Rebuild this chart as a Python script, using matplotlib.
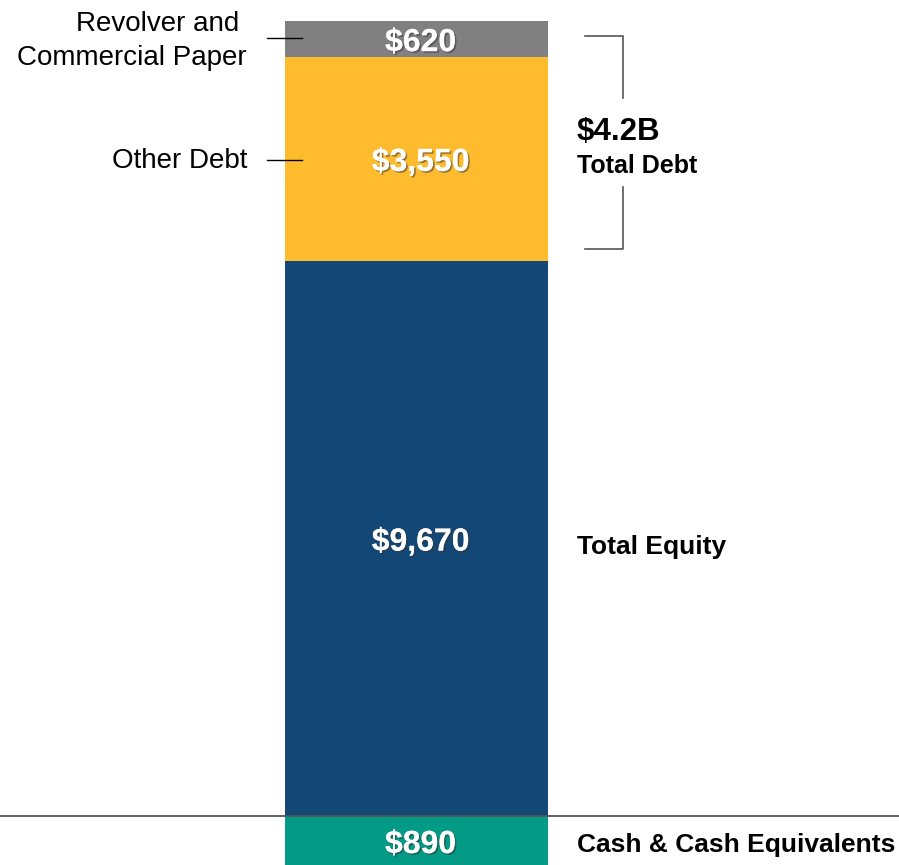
import matplotlib
matplotlib.use('Agg')
import matplotlib.pyplot as plt
import matplotlib.patheffects as pe

plt.rcParams['font.family'] = ['Liberation Sans', 'DejaVu Sans']

## capitalization segments ($M), bottom to top above the baseline
segments = ['Total Equity', 'Other Debt', 'Revolver and \nCommercial Paper']
values = [9670, 3550, 620]
colors = ['#134876', '#FDBB2D', '#808080']
value_labels = ['$9,670', '$3,550', '$620']

cash = 890  ## shown below the baseline
cash_label = '$890'
cash_name = 'Cash & Cash Equivalents'
cash_color = '#039B86'

debt_total = '$4.2B'
debt_name = 'Total Debt'

fig = plt.figure(figsize=(8.99, 8.65), dpi=100)
ax = fig.add_axes([0, 0, 1, 1])
ax.set_xlim(-1.584, 1.835)
ax.set_ylim(-853, 14206)
ax.axis('off')

shadow = [pe.withSimplePatchShadow(offset=(1.2, -1.2), shadow_rgbFace='#333333', alpha=0.5),
          pe.Normal()]
lab_x = 0.016  ## value labels sit a touch right of bar centre

bottom = 0
mids = []
for val, col, lab in zip(values, colors, value_labels):
    ax.bar(0, val, width=1.0, bottom=bottom, color=col, linewidth=0)
    mid = bottom + val / 2
    mids.append(mid)
    ax.text(lab_x, mid - 75, lab, ha='center', va='center', color='white', fontsize=23,
            fontweight='bold', path_effects=shadow)
    bottom += val

ax.bar(0, -cash, width=1.0, bottom=0, color=cash_color, linewidth=0)
ax.text(lab_x, -cash / 2 - 60, cash_label, ha='center', va='center', color='white',
        fontsize=23, fontweight='bold', path_effects=shadow)
ax.axhline(0, color='#555555', lw=1.3)

# left-side labels for debt pieces
ax.plot([-0.568, -0.435], [mids[2] + 20, mids[2] + 20], color='black', lw=1)
ax.text(-0.645, mids[2] - 40, segments[2], ha='right', va='center', fontsize=20,
        linespacing=1.38, multialignment='right')
ax.plot([-0.568, -0.435], [mids[1] - 20, mids[1] - 20], color='black', lw=1)
ax.text(-0.645, mids[1] - 40, segments[1], ha='right', va='center', fontsize=20)

# right-side labels
ax.text(0.610, mids[0] - 160, segments[0], ha='left', va='center', fontsize=19,
        fontweight='bold')
ax.text(0.610, -cash / 2 - 60, cash_name, ha='left', va='center', fontsize=19,
        fontweight='bold')

# debt bracket
top_b = 13580
bot_b = 9871
ax.plot([0.641, 0.785, 0.785], [top_b, top_b, 12500], color='#555555', lw=1.2)
ax.plot([0.641, 0.785, 0.785], [bot_b, bot_b, 10950], color='#555555', lw=1.2)
ax.text(0.610, 11900, debt_total, ha='left', va='center', fontsize=22.5,
        fontweight='bold')
ax.text(0.610, 11320, debt_name, ha='left', va='center', fontsize=18,
        fontweight='bold')

fig.savefig('out.png', dpi=100)
